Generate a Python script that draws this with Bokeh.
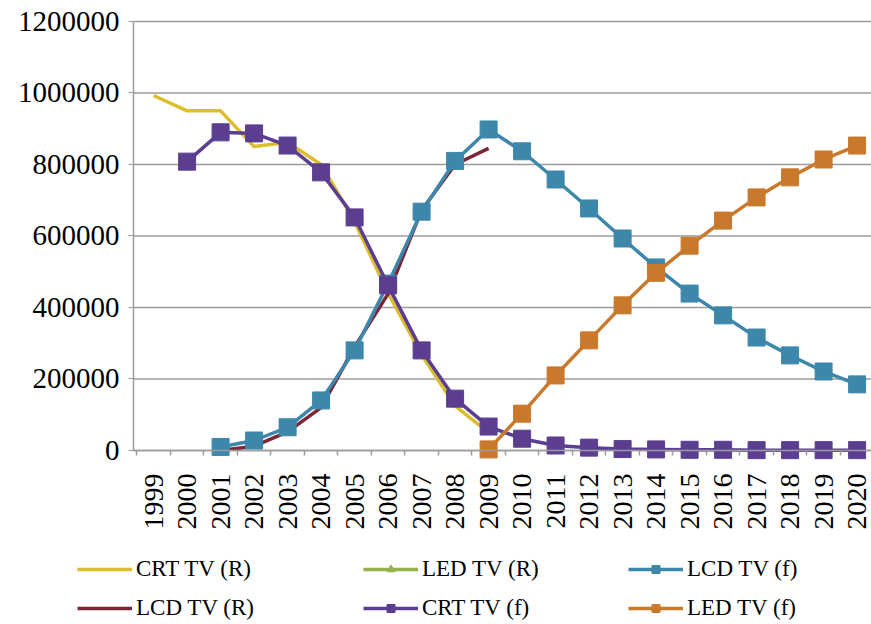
import numpy as np
from bokeh.plotting import figure
from bokeh.models import (Range1d, FixedTicker, BasicTickFormatter, Legend, LegendItem,
                          LinearAxis)
from bokeh.embed import file_html
from bokeh.resources import INLINE

# ---- data -------------------------------------------------------------
years = list(range(1999, 2021))

crt_r_years = list(range(1999, 2010))
crt_r = [993000, 950000, 950000, 850000, 862000, 800000, 640000, 440000, 268000, 125000, 50000]

lcd_r_years = list(range(2001, 2010))
lcd_r = [0, 12000, 52000, 120000, 290000, 438000, 672000, 800000, 845000]

led_r_years = [2009]
led_r = [0]

lcd_f_years = list(range(2001, 2021))
lcd_f = [10000, 28000, 65000, 140000, 280000, 467000, 668000, 810000, 898000, 837000,
         758000, 677000, 593000, 512000, 439000, 378000, 316000, 266000, 221000, 185000]

crt_f_years = list(range(2000, 2021))
crt_f = [808000, 890000, 887000, 853000, 778000, 652000, 462000, 280000, 145000, 67000,
         33000, 14000, 8000, 4000, 3000, 2000, 2000, 1000, 1000, 1000, 1000]

led_f_years = list(range(2009, 2021))
led_f = [3000, 103000, 210000, 308000, 406000, 497000, 573000, 643000, 708000, 764000, 814000, 853000]

y_ticks = [0, 200000, 400000, 600000, 800000, 1000000, 1200000]

# ---- styling ----------------------------------------------------------
FONT = "'Liberation Serif'"
C_CRT_R = "#DCBE2C"
C_LCD_R = "#7A2634"
C_LED_R = "#98B048"
C_LCD_F = "#3D87AB"
C_CRT_F = "#5B3E8F"
C_LED_F = "#C9792C"
GRID = "#9c9c9c"

# plotting area spans x 1998.4..2020.43 and y 0..1.2M; the canvas around it
# carries the axes and the legend
X0, X1 = 1998.4, 2020.43
p = figure(width=871, height=624, output_backend="svg", toolbar_location=None,
           x_range=Range1d(1994.43, X1), y_range=Range1d(-486700, 1258700),
           min_border=0, x_axis_type=None, y_axis_type=None)
p.outline_line_color = None
p.background_fill_color = "white"
p.border_fill_color = "white"
p.xgrid.grid_line_color = None
p.ygrid.grid_line_color = None

# horizontal grid lines
p.segment(x0=[X0] * len(y_ticks), y0=y_ticks, x1=[X1] * len(y_ticks), y1=y_ticks,
          line_color=GRID, line_width=1.5)

# y axis
yax = LinearAxis(fixed_location=X0, bounds=(0, 1200000),
                 ticker=FixedTicker(ticks=y_ticks),
                 formatter=BasicTickFormatter(use_scientific=False))
yax.axis_line_color = GRID
yax.axis_line_width = 1.5
yax.major_tick_line_color = GRID
yax.major_tick_out = 5
yax.major_tick_in = 0
yax.minor_tick_line_color = None
yax.major_label_text_font = FONT
yax.major_label_text_font_size = "29px"
yax.major_label_text_color = "black"
yax.major_label_standoff = 9
p.add_layout(yax, "left")

# x axis on the zero line, ticks at category boundaries
xax = LinearAxis(fixed_location=0, bounds=(X0, X1),
                 ticker=FixedTicker(ticks=years,
                                    minor_ticks=[y - 0.5 for y in years] + [years[-1] + 0.5]))
xax.axis_line_color = GRID
xax.axis_line_width = 1.5
xax.major_tick_line_color = None
xax.major_tick_out = 0
xax.major_tick_in = 0
xax.minor_tick_line_color = GRID
xax.minor_tick_line_width = 1.5
xax.minor_tick_out = 5
xax.minor_tick_in = 0
xax.major_label_orientation = np.pi / 2
xax.major_label_text_font = FONT
xax.major_label_text_font_size = "28px"
xax.major_label_text_color = "black"
xax.major_label_standoff = 18
p.add_layout(xax, "below")

LW = 3.5
SQ = 17

r_crt_r = p.line(crt_r_years, crt_r, line_color=C_CRT_R, line_width=LW)
r_lcd_r = p.line(lcd_r_years, lcd_r, line_color=C_LCD_R, line_width=LW)
r_led_r = p.line(led_r_years, led_r, line_color=C_LED_R, line_width=LW)
m_led_r = p.scatter(led_r_years, led_r, marker="triangle", size=10, color=C_LED_R)
r_lcd_f = p.line(lcd_f_years, lcd_f, line_color=C_LCD_F, line_width=LW)
m_lcd_f = p.scatter(lcd_f_years, lcd_f, marker="square", size=SQ, color=C_LCD_F)
r_crt_f = p.line(crt_f_years, crt_f, line_color=C_CRT_F, line_width=LW)
m_crt_f = p.scatter(crt_f_years, crt_f, marker="square", size=SQ, color=C_CRT_F)
r_led_f = p.line(led_f_years, led_f, line_color=C_LED_F, line_width=LW)
m_led_f = p.scatter(led_f_years, led_f, marker="square", size=SQ, color=C_LED_F)


def make_legend(items, loc):
    leg = Legend(items=items, location=loc, orientation="vertical",
                 label_text_font=FONT, label_text_font_size="23px",
                 label_text_color="black", label_standoff=4,
                 glyph_width=55, glyph_height=20, label_height=20,
                 spacing=13, padding=0, margin=0,
                 border_line_color=None, background_fill_alpha=0)
    p.add_layout(leg)


make_legend([LegendItem(label="CRT TV (R)", renderers=[r_crt_r]),
             LegendItem(label="LCD TV (R)", renderers=[r_lcd_r])], (77, 3))
make_legend([LegendItem(label="LED TV (R)", renderers=[r_led_r, m_led_r]),
             LegendItem(label="CRT TV (f)", renderers=[r_crt_f, m_crt_f])], (363, 3))
make_legend([LegendItem(label="LCD TV (f)", renderers=[r_lcd_f, m_lcd_f]),
             LegendItem(label="LED TV (f)", renderers=[r_led_f, m_led_f])], (628, 3))

open("out.html", "w").write(file_html(p, INLINE))
